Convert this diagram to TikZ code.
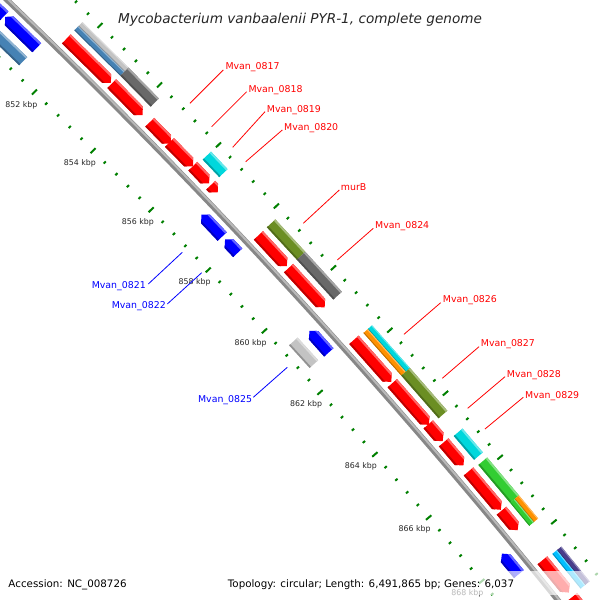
\documentclass[tikz,border=0pt]{standalone}
\usepackage{fontspec}
\setmainfont{DejaVu Sans}[ItalicFont={DejaVu Sans Oblique},BoldFont={DejaVu Sans Bold}]
\usetikzlibrary{calc}
\definecolor{cred}{RGB}{255,0,0}
\definecolor{cblue}{RGB}{0,0,255}
\definecolor{csteel}{RGB}{70,130,180}
\definecolor{csilver}{RGB}{195,195,195}
\definecolor{cdim}{RGB}{105,105,105}
\definecolor{ccyan}{RGB}{0,215,220}
\definecolor{colive}{RGB}{107,142,35}
\definecolor{corange}{RGB}{255,145,0}
\definecolor{cgreen}{RGB}{50,205,50}
\definecolor{cslate}{RGB}{72,61,139}
\definecolor{csky}{RGB}{0,191,255}
\definecolor{ctick}{RGB}{0,128,0}
\definecolor{cbone}{RGB}{135,135,135}
\definecolor{cbonelt}{RGB}{185,185,185}
% angle (screen coordinates, y down) of a point seen from the circle centre
\newcommand\getang[3]{\pgfmathsetmacro#1{atan2((#3)-4617.5,(#2)+4423.9)}}
\def\headlen{0.0537}
% CDS arrow: tailX tailY tipX tipY rin rout colour
\newcommand\cds[7]{%
  \getang\cdsT{#1}{#2}\getang\cdsH{#3}{#4}%
  \pgfmathsetmacro\cdsS{(\cdsH>\cdsT)?1:-1}%
  \pgfmathsetmacro\cdsB{\cdsH-\cdsS*\headlen}%
  \pgfmathsetmacro\cdsM{(#5+#6)/2}%
  \pgfmathsetmacro\cdsL{#6-0.17*(#6-#5)}%
  \pgfmathsetmacro\cdsD{#5+0.15*(#6-#5)}%
  \fill[#7] (\cdsT:#5) -- (\cdsB:#5) -- (\cdsH:\cdsM) -- (\cdsB:#6) -- (\cdsT:#6) -- cycle;
  \begin{scope}
    \clip (\cdsT:#5) -- (\cdsB:#5) -- (\cdsH:\cdsM) -- (\cdsB:#6) -- (\cdsT:#6) -- cycle;
    \fill[#7!60!white] (\cdsT:#6) -- (\cdsH:#6) -- (\cdsH:\cdsL) -- (\cdsT:\cdsL) -- cycle;
    \fill[#7!75!black] (\cdsT:#5) -- (\cdsH:#5) -- (\cdsH:\cdsD) -- (\cdsT:\cdsD) -- cycle;
  \end{scope}}
% COG block: X1 Y1 X2 Y2 rin rout colour
\newcommand\cog[7]{%
  \getang\cogA{#1}{#2}\getang\cogB{#3}{#4}%
  \pgfmathsetmacro\cogL{#6-0.17*(#6-#5)}%
  \pgfmathsetmacro\cogD{#5+0.15*(#6-#5)}%
  \fill[#7] (\cogA:#5) -- (\cogB:#5) -- (\cogB:#6) -- (\cogA:#6) -- cycle;
  \fill[#7!60!white] (\cogA:\cogL) -- (\cogB:\cogL) -- (\cogB:#6) -- (\cogA:#6) -- cycle;
  \fill[#7!75!black] (\cogA:#5) -- (\cogB:#5) -- (\cogB:\cogD) -- (\cogA:\cogD) -- cycle;}
\begin{document}
\begin{tikzpicture}[x=1pt,y=-1pt,
  tickmaj/.style={ctick,line width=2pt},
  tickmin/.style={ctick,line width=2pt},
  rulerlbl/.style={font=\fontsize{7.85}{9}\selectfont,text=black!85,inner sep=0pt},
  lbl/.style={font=\fontsize{9.4}{11}\selectfont,inner sep=0pt},
  redlbl/.style={lbl,text=cred,anchor=base west},
  bluelbl/.style={lbl,text=cblue,anchor=base east},
  leadr/.style={draw=cred,line width=0.8pt},
  leadb/.style={draw=cblue,line width=0.8pt},
  bottomtxt/.style={font=\fontsize{10.3}{12}\selectfont,text=black,inner sep=0pt,anchor=base west}]
\useasboundingbox (0,0) rectangle (600,600);
\clip (0,0) rectangle (600,600);
\fill[white] (0,0) rectangle (600,600);
\begin{scope}[shift={(-4423.9,4617.5)}]
  % backbone
  \draw[cbone,line width=5.5pt] (-46.6:6400) arc[start angle=-46.6,end angle=-38.2,radius=6400];
  \draw[cbonelt,line width=2pt] (-46.6:6401.2) arc[start angle=-46.6,end angle=-38.2,radius=6401.2];
  % rulers
  \foreach \i in {-12,...,48}{
    \pgfmathsetmacro\ta{-45.428+0.14954*\i}
    \pgfmathtruncatemacro\md{mod(\i+60,5)}
    \ifnum\md=0
      \draw[tickmaj] (\ta:6443) -- (\ta:6450);
      \draw[tickmaj] (\ta:6349.5) -- (\ta:6356.5);
    \else
      \draw[tickmin] (\ta:6445) -- (\ta:6448);
      \draw[tickmin] (\ta:6351.5) -- (\ta:6354.5);
    \fi
  }
  \foreach \k in {852,854,...,868}{
    \pgfmathsetmacro\ta{-45.428+0.37385*(\k-852)}
    \node[rulerlbl] (rk\k) at (\ta:6334.5) {\k\ kbp};
  }
  % forward CDS
  \cds{66.5}{38.7}{112.7}{81}{6407}{6419.5}{cred}
  \cds{111.7}{83.7}{146}{111.7}{6407}{6419.5}{cred}
  \cds{149.7}{122.2}{171.7}{142.7}{6407}{6419.5}{cred}
  \cds{169.7}{142.3}{194.3}{165}{6407}{6419.5}{cred}
  \cds{193.3}{165.8}{212.7}{180}{6407}{6419.5}{cred}
  \cds{211.2}{184.7}{221}{189.3}{6407}{6419.5}{cred}
  \cds{258.7}{235.2}{290}{263.3}{6407}{6419.5}{cred}
  \cds{289.2}{267.5}{327.3}{305}{6407}{6419.5}{cred}
  \cds{353.7}{340}{393.3}{380}{6407}{6419.5}{cred}
  \cds{391.7}{383.7}{430.7}{423.3}{6407}{6419.5}{cred}
  \cds{428.3}{424.5}{446}{438.3}{6407}{6419.5}{cred}
  \cds{442.7}{443.3}{466}{463.3}{6407}{6419.5}{cred}
  \cds{468.7}{471.2}{502.7}{508.3}{6407}{6419.5}{cred}
  \cds{500.8}{511.2}{520}{528.3}{6407}{6419.5}{cred}
  \cds{540.8}{561.7}{567}{594}{6407}{6419.5}{cred}
  \cds{571}{598}{600}{630}{6407}{6419.5}{cred}
  % reverse CDS
  \cds{6.7}{13.3}{-30}{-25}{6380}{6392.5}{cblue}
  \cds{37.3}{47.3}{2}{20}{6380}{6392.5}{cblue}
  \cds{223}{235.8}{199.3}{216.7}{6380}{6392.5}{cblue}
  \cds{238}{252.5}{222.7}{241.7}{6380}{6392.5}{cblue}
  \cds{328.7}{352.5}{306}{334}{6380}{6392.5}{cblue}
  \cds{520.8}{572.5}{498.3}{556.7}{6380}{6392.5}{cblue}
  % outer COG track
  \cog{78.8}{25.8}{125.2}{70.8}{6430.75}{6436.5}{csilver}
  \cog{78.8}{25.8}{125.2}{70.8}{6425}{6430.75}{csteel}
  \cog{125.2}{70.8}{156.2}{101.2}{6425}{6436.5}{cdim}
  \cog{207.7}{154.7}{224.3}{172.2}{6425}{6436.5}{ccyan}
  \cog{271.2}{223.3}{302.2}{254.7}{6425}{6436.5}{colive}
  \cog{302.2}{254.7}{337.5}{295.8}{6425}{6436.5}{cdim}
  \cog{368.2}{328.8}{406.7}{371}{6430.75}{6436.5}{ccyan}
  \cog{368.2}{328.8}{406.7}{371}{6425}{6430.75}{corange}
  \cog{406.7}{371}{443.3}{414.2}{6425}{6436.5}{colive}
  \cog{458}{432.5}{478.8}{455.8}{6425}{6436.5}{ccyan}
  \cog{483.3}{460.8}{515.5}{498.3}{6425}{6436.5}{cgreen}
  \cog{515.5}{498.3}{534.2}{521.7}{6430.75}{6436.5}{corange}
  \cog{515.5}{498.3}{534.2}{521.7}{6425}{6430.75}{cgreen}
  \cog{556.2}{550.8}{585}{585}{6430.75}{6436.5}{cslate}
  \cog{556.2}{550.8}{585}{585}{6425}{6430.75}{csky}
  % inner COG track
  \cog{-40}{-20}{25}{59.3}{6361.5}{6373}{csteel}
  \cog{293.7}{341.2}{315.8}{362.5}{6361.5}{6373}{csilver}
\end{scope}
% feature labels
\node[redlbl] (l0817) at (225.3,69.4) {Mvan\_0817};
\node[redlbl] (l0818) at (248.3,92.7) {Mvan\_0818};
\node[redlbl] (l0819) at (266.7,112.1) {Mvan\_0819};
\node[redlbl] (l0820) at (284,130.4) {Mvan\_0820};
\node[redlbl] (lmurB) at (340.7,190.7) {murB};
\node[redlbl] (l0824) at (375,228.4) {Mvan\_0824};
\node[redlbl] (l0826) at (442.7,302.4) {Mvan\_0826};
\node[redlbl] (l0827) at (480.7,346.7) {Mvan\_0827};
\node[redlbl] (l0828) at (506.7,377.7) {Mvan\_0828};
\node[redlbl] (l0829) at (525,398.4) {Mvan\_0829};
\node[bluelbl] (l0821) at (146,288.7) {Mvan\_0821};
\node[bluelbl] (l0822) at (166,308.4) {Mvan\_0822};
\node[bluelbl] (l0825) at (252.3,402.4) {Mvan\_0825};
\coordinate (p0817) at (190,103.3);   \coordinate (q0817) at (223.3,70);
\coordinate (p0818) at (211.7,126.7); \coordinate (q0818) at (246.7,91.7);
\coordinate (p0819) at (232.7,147.3); \coordinate (q0819) at (265,111.7);
\coordinate (p0820) at (245.7,161.7); \coordinate (q0820) at (282.3,130);
\coordinate (pmurB) at (303.3,223.3); \coordinate (qmurB) at (339.3,190);
\coordinate (p0824) at (337.3,260);   \coordinate (q0824) at (373.3,228.3);
\coordinate (p0826) at (404,334.3);   \coordinate (q0826) at (440.7,302.7);
\coordinate (p0827) at (442.3,378.3); \coordinate (q0827) at (479,346.7);
\coordinate (p0828) at (467.7,408.3); \coordinate (q0828) at (505,376.7);
\coordinate (p0829) at (485,429);     \coordinate (q0829) at (523.3,397.3);
\coordinate (p0821) at (182.3,252.3); \coordinate (q0821) at (148.3,284);
\coordinate (p0822) at (201.7,272.7); \coordinate (q0822) at (167.3,304);
\coordinate (p0825) at (287.3,367.3); \coordinate (q0825) at (253.3,397.3);
\foreach \n in {0817,0818,0819,0820,murB,0824,0826,0827,0828,0829}{\draw[leadr] (p\n) -- (q\n);}
\foreach \n in {0821,0822,0825}{\draw[leadb] (p\n) -- (q\n);}
% title
\node[font=\fontsize{13.6}{16}\selectfont\itshape,text=black!85,anchor=base,inner sep=0pt] (title) at (300,23) {Mycobacterium vanbaalenii PYR-1, complete genome};
% legend band and texts
\fill[white,opacity=0.68] (0,571) rectangle (600,595);
\node[bottomtxt] (acc) at (8.3,587) {Accession: NC\_008726};
\node[bottomtxt] (topo) at (227.7,587) {Topology: circular; Length: 6,491,865 bp; Genes: 6,037};
\end{tikzpicture}
\end{document}
